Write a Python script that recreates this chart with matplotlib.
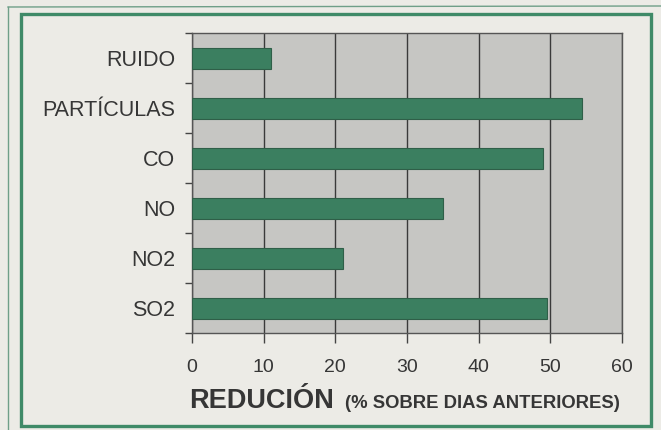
import matplotlib.pyplot as plt
import numpy as np
from matplotlib.patches import Rectangle
from matplotlib.lines import Line2D

categorias = ["SO2", "NO2", "NO", "CO", "PARTÍCULAS", "RUIDO"]
reduccion = [49.6, 21.1, 35.0, 49.0, 54.4, 11.0]
x_ticks = [0, 10, 20, 30, 40, 50, 60]

W, H = 661, 430
texto = "#363636"
verde = "#3b7f60"
marco = "#3f8a68"

fig = plt.figure(figsize=(W / 100, H / 100), dpi=100)
fig.patch.set_facecolor("#ecebe6")
plt.rcParams['font.family'] = ['Liberation Sans', 'DejaVu Sans']

# green frames
fig.add_artist(Rectangle((21 / W, 1 - 426 / H), (651 - 21) / W, (426 - 14) / H,
                         transform=fig.transFigure, fill=False,
                         edgecolor=marco, linewidth=2.4))
fig.add_artist(Line2D([8 / W, 8 / W], [0, 1 - 7 / H], transform=fig.transFigure,
                      color="#6f9f88", linewidth=1.0))
fig.add_artist(Line2D([8 / W, 1], [1 - 7 / H, 1 - 6 / H], transform=fig.transFigure,
                      color="#6f9f88", linewidth=1.0))

ax = fig.add_axes([192 / W, 1 - 333 / H, (622 - 192) / W, (333 - 33) / H])
ax.set_facecolor("#c6c6c3")

y = np.arange(len(categorias))
ax.barh(y, reduccion, height=0.42, color=verde, edgecolor="#2f5f48",
        linewidth=0.8, zorder=3)

ax.set_xlim(0, 60)
ax.set_ylim(-0.5, len(categorias) - 0.5)
ax.set_xticks(x_ticks)
ax.set_xticklabels([str(v) for v in x_ticks], fontsize=14, color=texto)
ax.tick_params(axis="x", length=7, width=1, color="#444444", pad=12)

ax.set_yticks(np.arange(-0.5, len(categorias), 1.0))
ax.set_yticklabels([])
ax.tick_params(axis="y", which="major", length=5, width=1, color="#444444")
ax.set_yticks(y, minor=True)
ax.set_yticklabels(categorias, minor=True, fontsize=15.5, color=texto)
ax.tick_params(axis="y", which="minor", length=0, pad=12)

ax.grid(axis="x", color="#3a3a3a", linewidth=1.0, zorder=1)
for s in ax.spines.values():
    s.set_color("#555555")
    s.set_linewidth(1.0)

fig.text(189 / W, 1 - 408 / H, "REDUCIÓN", fontsize=19.5, fontweight="bold",
         color=texto, ha="left", va="baseline")
fig.text(345 / W, 1 - 408 / H, "(% SOBRE DIAS ANTERIORES)", fontsize=13.3,
         fontweight="bold", color=texto, ha="left", va="baseline")

fig.savefig("out.png", dpi=100, facecolor=fig.get_facecolor())
